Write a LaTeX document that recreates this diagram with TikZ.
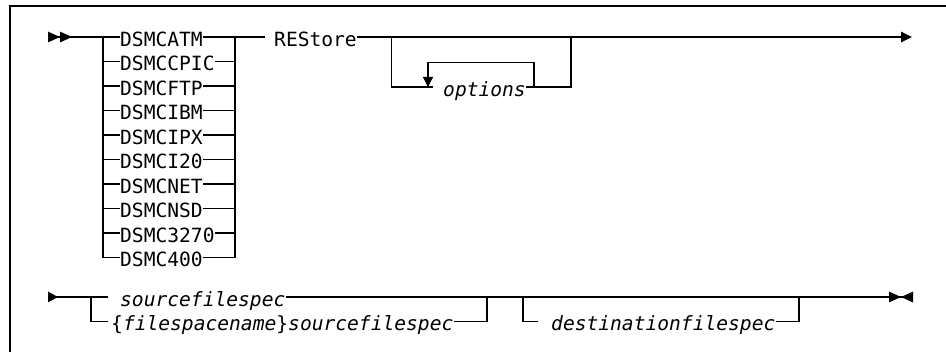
\documentclass[tikz,border=0pt]{standalone}
\usepackage{fontspec}
\newfontfamily\diagmono{DejaVu Sans Mono}
\usetikzlibrary{arrows.meta}
\newcommand{\syntaxfont}{\diagmono\fontsize{19.6pt}{22pt}\selectfont}

\begin{document}
\begin{tikzpicture}[
    x=1pt, y=-1pt,
    kw/.style={inner sep=0pt, anchor=west, text height=18.8pt, text depth=0pt, font=\syntaxfont},
    var/.style={kw, font=\syntaxfont\itshape},
    rail/.style={line width=1.2pt, black},
    startdbl/.style={{Triangle[reversed,length=12pt,width=10.5pt]Triangle[reversed,length=12pt,width=10.5pt]}-},
    startone/.style={{Triangle[reversed,length=10pt,width=10.5pt]}-},
    endone/.style={-{Triangle[length=11pt,width=10.5pt]}},
    enddbl/.style={-{Triangle[length=12pt,width=10.5pt]Triangle[reversed,length=12pt,width=10.5pt]}},
    loopback/.style={-{Triangle[length=10pt,width=10pt]}}
]
\useasboundingbox (0,0) rectangle (946,352);
\draw[line width=1.5pt] (10,352) -- (10,6) -- (946,6);

% first line
\coordinate (in1) at (48,37);
\coordinate (leftrail) at (103,37);
\coordinate (rightrail) at (235,37);
\coordinate (gap1) at (265,37);
\node[kw] (atm) at (120,37) {DSMCATM};
\node[kw] (cpic) at (120,61.5) {DSMCCPIC};
\node[kw] (ftp) at (120,86) {DSMCFTP};
\node[kw] (ibm) at (120,110.5) {DSMCIBM};
\node[kw] (ipx) at (120,135) {DSMCIPX};
\node[kw] (itwenty) at (120,159.5) {DSMCI20};
\node[kw] (net) at (120,184) {DSMCNET};
\node[kw] (nsd) at (120,208.5) {DSMCNSD};
\node[kw] (ibmterm) at (120,233) {DSMC3270};
\node[kw] (as400) at (120,257.5) {DSMC400};
\node[kw] (restore) at (274,37) {REStore};
\node[var] (opts) at (443,87) {options};
\coordinate (optin) at (391.5,37);
\coordinate (optout) at (571,37);
\coordinate (optgap) at (433,87);
\coordinate (loopin) at (428,62.5);
\coordinate (loopout) at (534,62.5);
\coordinate (out1) at (912,37);

\draw[rail, startdbl] (in1) -- (atm);
\draw[rail] (atm) -- (gap1);
\draw[rail] (leftrail |- cpic) -- (cpic) -- (rightrail |- cpic);
\draw[rail] (leftrail |- ftp) -- (ftp) -- (rightrail |- ftp);
\draw[rail] (leftrail |- ibm) -- (ibm) -- (rightrail |- ibm);
\draw[rail] (leftrail |- ipx) -- (ipx) -- (rightrail |- ipx);
\draw[rail] (leftrail |- itwenty) -- (itwenty) -- (rightrail |- itwenty);
\draw[rail] (leftrail |- net) -- (net) -- (rightrail |- net);
\draw[rail] (leftrail |- nsd) -- (nsd) -- (rightrail |- nsd);
\draw[rail] (leftrail |- ibmterm) -- (ibmterm) -- (rightrail |- ibmterm);
\draw[rail] (leftrail) -- (leftrail |- as400) -- (as400) -- (rightrail |- as400) -- (rightrail);
\draw[rail, endone] (restore) -- (out1);
\draw[rail] (optin) -- (optin |- opts) -- (optgap);
\draw[rail, loopback] (loopout |- opts) -- (loopout) -- (loopin) -- (loopin |- opts);
\draw[rail] (opts) -- (optout |- opts) -- (optout);

% second line
\coordinate (in2) at (48,297);
\coordinate (splitL) at (91,297);
\coordinate (stub2) at (108,297);
\node[var] (src) at (120,297) {sourcefilespec};
\node[var] (fsrc) at (111,321.5) {{\upshape\{}filespacename{\upshape\}}sourcefilespec};
\coordinate (joinR) at (487,297);
\coordinate (destL) at (523,297);
\coordinate (destgap) at (538,321.5);
\node[var] (dest) at (551,321.5) {destinationfilespec};
\coordinate (destR) at (799,297);
\coordinate (out2) at (913,297);

\draw[rail, startone] (in2) -- (stub2);
\draw[rail] (splitL) -- (splitL |- fsrc) -- (stub2 |- fsrc);
\draw[rail, enddbl] (src) -- (out2);
\draw[rail] (fsrc) -- (joinR |- fsrc) -- (joinR);
\draw[rail] (destL) -- (destL |- dest) -- (destgap);
\draw[rail] (dest) -- (destR |- dest) -- (destR);
\end{tikzpicture}
\end{document}
